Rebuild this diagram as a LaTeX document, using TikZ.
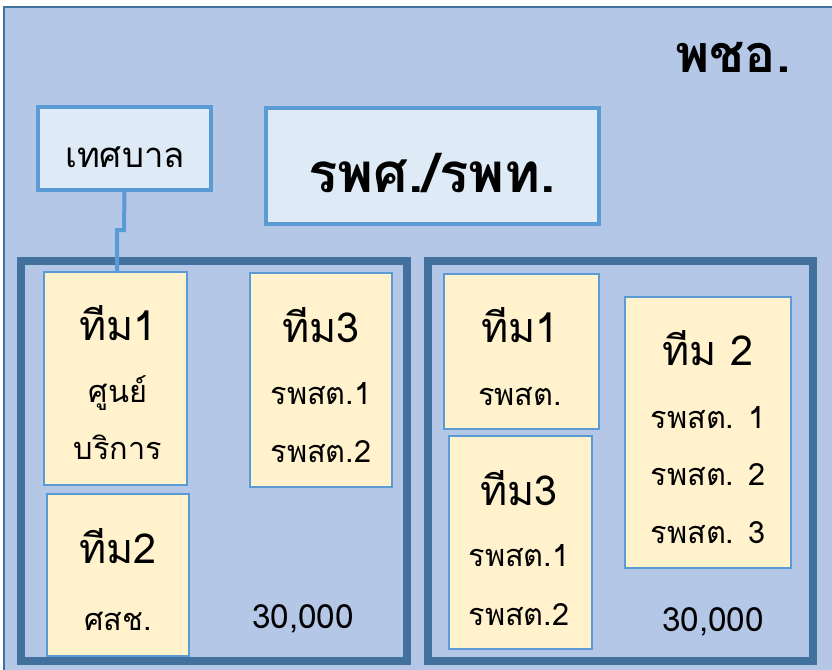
\documentclass[tikz,border=0pt]{standalone}
\usepackage{fontspec}
\newfontfamily\thaifont[Script=Thai]{Loma}
\definecolor{bgblue}{HTML}{B4C7E7}
\definecolor{darkblue}{HTML}{41719C}
\definecolor{midblue}{HTML}{5B9BD5}
\definecolor{paleblue}{HTML}{DEEBF7}
\definecolor{paleyellow}{HTML}{FFF2CC}
\tikzset{
  orgbox/.style={draw=midblue, line width=3pt, fill=paleblue},
  groupbox/.style={draw=darkblue, line width=6pt},
  teambox/.style={draw=midblue, line width=1.1pt, fill=paleyellow},
  bigtxt/.style={anchor=base, inner sep=0pt, font=\thaifont\fontsize{31}{34}\selectfont},
  subtxt/.style={anchor=base, inner sep=0pt, font=\thaifont\fontsize{23}{26}\selectfont},
  numtxt/.style={anchor=base, inner sep=0pt, font=\thaifont\fontsize{25}{28}\selectfont},
  link/.style={draw=midblue, line width=3pt}
}
\begin{document}
\begin{tikzpicture}[x=0.75pt, y=-0.75pt]
\useasboundingbox (0,0) rectangle (832,669);
\begin{scope}
\clip (0,0) rectangle (832,669);
\fill[white] (0,0) rectangle (832,669);
\draw[fill=bgblue, draw=darkblue, line width=1.5pt] (4,7) rectangle (840,680);
\end{scope}
\node[anchor=base, inner sep=0pt, font=\thaifont\bfseries\fontsize{39}{44}\selectfont] (pcho) at (733,72) {พชอ.};
% org boxes
\node[orgbox, minimum width=173*0.75pt, minimum height=83*0.75pt, inner sep=0pt] (tb) at (124.5,148.5) {};
\node[anchor=base, inner sep=0pt, font=\thaifont\fontsize{26}{30}\selectfont] (tbt) at (125,167) {เทศบาล};
\node[orgbox, minimum width=333*0.75pt, minimum height=116*0.75pt, inner sep=0pt] (hosp) at (432.5,166) {};
\node[anchor=base, inner sep=0pt, font=\thaifont\bfseries\fontsize{41}{46}\selectfont] (hospt) at (432,192) {รพศ./รพท.};
% group boxes
\node[groupbox, minimum width=386*0.75pt, minimum height=400*0.75pt, inner sep=0pt] (gl) at (214,461) {};
\node[groupbox, minimum width=385*0.75pt, minimum height=400*0.75pt, inner sep=0pt] (gr) at (620.5,461) {};
% left team boxes
\node[teambox, minimum width=143*0.75pt, minimum height=213*0.75pt, inner sep=0pt] (l1) at (115.5,378.5) {};
\node[teambox, minimum width=142*0.75pt, minimum height=214*0.75pt, inner sep=0pt] (l3) at (321,380) {};
\node[teambox, minimum width=142*0.75pt, minimum height=162*0.75pt, inner sep=0pt] (l2) at (118,575) {};
% right team boxes
\node[teambox, minimum width=155*0.75pt, minimum height=155*0.75pt, inner sep=0pt] (r1) at (521.5,351.5) {};
\node[teambox, minimum width=143*0.75pt, minimum height=213*0.75pt, inner sep=0pt] (r3) at (520.5,542.5) {};
\node[teambox, minimum width=166*0.75pt, minimum height=271*0.75pt, inner sep=0pt] (r2) at (708,432.5) {};
% connector
\coordinate (j1) at (124,230);
\coordinate (j2) at (117,230);
\draw[link] (tb.south) -- (j1) -- (j2) -- (j2 |- l1.north);
% texts left
\node[bigtxt] (l1a) at (118,340) {ทีม1};
\node[subtxt] (l1b) at (118,402) {ศูนย์};
\node[subtxt] (l1c) at (118,459) {บริการ};
\node[bigtxt] (l3a) at (321,342) {ทีม3};
\node[subtxt] (l3b) at (321,404) {รพสต.1};
\node[subtxt] (l3c) at (321,462) {รพสต.2};
\node[bigtxt] (l2a) at (118,563) {ทีม2};
\node[subtxt] (l2b) at (118,630) {ศสช.};
\node[numtxt] (lnum) at (303,628) {30,000};
% texts right
\node[bigtxt] (r1a) at (520,342) {ทีม1};
\node[subtxt] (r1b) at (520,405) {รพสต.};
\node[bigtxt] (r3a) at (519,505) {ทีม3};
\node[subtxt] (r3b) at (519,566) {รพสต.1};
\node[subtxt] (r3c) at (519,625) {รพสต.2};
\node[bigtxt] (r2a) at (708,365) {ทีม 2};
\node[subtxt] (r2b) at (708,428) {รพสต. 1};
\node[subtxt] (r2c) at (708,485) {รพสต. 2};
\node[subtxt] (r2d) at (708,543) {รพสต. 3};
\node[numtxt] (rnum) at (713,631) {30,000};
\end{tikzpicture}
\end{document}
